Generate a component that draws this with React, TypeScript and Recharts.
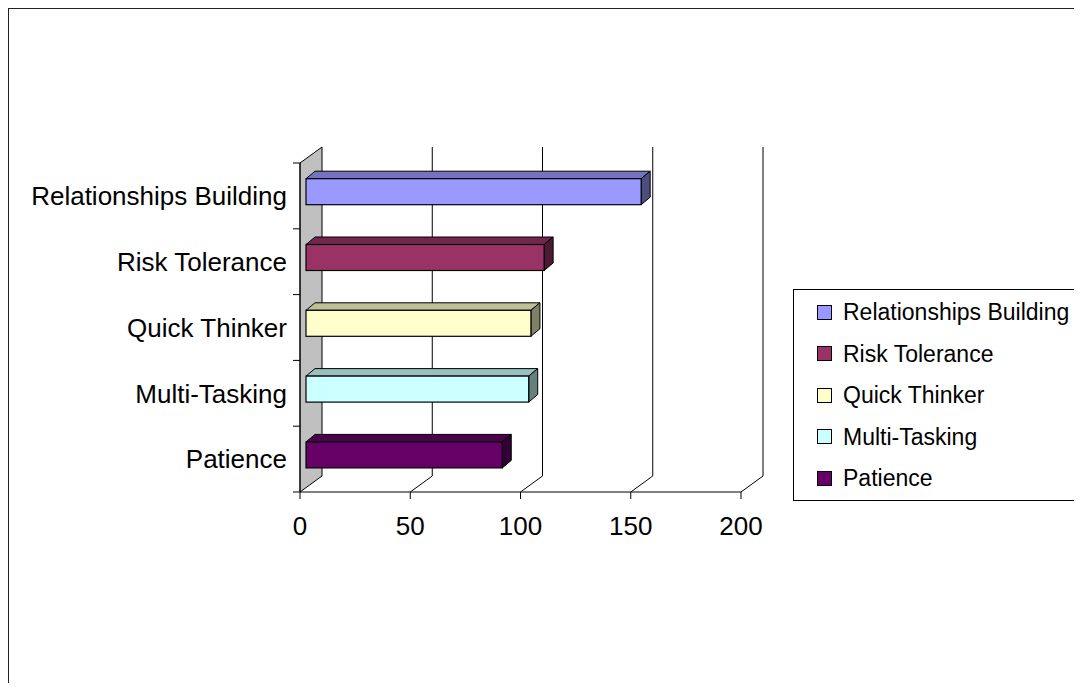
import React from "react";
import { BarChart, Bar, XAxis, YAxis, CartesianGrid, Legend, Cell } from "recharts";

const categories = ["Relationships Building", "Risk Tolerance", "Quick Thinker", "Multi-Tasking", "Patience"];
const values = [152, 108, 102, 101, 89];
const colors = ["#9999ff", "#993366", "#ffffcc", "#ccffff", "#660066"];
const xTicks = [0, 50, 100, 150, 200];

const W = 1082;
const H = 691;
const FONT = "'Liberation Sans', Arial, sans-serif";
const M = { top: 163, right: 341, bottom: 139, left: 10 };
const Y_AXIS_W = 290;
const X_AXIS_H = 60;
const PLOT_LEFT = M.left + Y_AXIS_W;
const PLOT_H = H - M.top - M.bottom - X_AXIS_H;
const BAND = PLOT_H / categories.length;

// 3d depth of the walls, of the bar placement and of the bars themselves
const WALL_DX = 22;
const WALL_DY = -16;
const BAR_OFF_X = 6;
const BAR_OFF_Y = -4.3;
const BAR_DX = 9;
const BAR_DY = -7.5;

const data = categories.map((name, i) => ({ name, value: values[i] }));

function shade(hex: string, k: number) {
  const n = parseInt(hex.slice(1), 16);
  const r = Math.round(((n >> 16) & 255) * k);
  const g = Math.round(((n >> 8) & 255) * k);
  const b = Math.round((n & 255) * k);
  return `rgb(${r},${g},${b})`;
}

function Bar3D(props: any) {
  const { x, y, width, height, fill } = props;
  const fx = x + BAR_OFF_X;
  const fy = y + BAR_OFF_Y;
  const top = `${fx},${fy} ${fx + BAR_DX},${fy + BAR_DY} ${fx + width + BAR_DX},${fy + BAR_DY} ${fx + width},${fy}`;
  const side = `${fx + width},${fy} ${fx + width + BAR_DX},${fy + BAR_DY} ${fx + width + BAR_DX},${fy + height + BAR_DY} ${fx + width},${fy + height}`;
  return (
    <g>
      <polygon points={top} fill={shade(fill, 0.75)} stroke="#000" strokeWidth={1} strokeLinejoin="round" />
      <polygon points={side} fill={shade(fill, 0.5)} stroke="#000" strokeWidth={1} strokeLinejoin="round" />
      <rect x={fx} y={fy} width={width} height={height} fill={fill} stroke="#000" strokeWidth={1.2} />
    </g>
  );
}

function GridLine3D(props: any) {
  const { x1, y1, y2, index } = props;
  if (index === 0) {
    const pts = `${x1},${y1} ${x1 + WALL_DX},${y1 + WALL_DY} ${x1 + WALL_DX},${y2 + WALL_DY} ${x1},${y2}`;
    return <polygon key={`g${index}`} points={pts} fill="#c0c0c0" stroke="#000" strokeWidth={1} />;
  }
  return (
    <g key={`g${index}`}>
      <line x1={x1 + WALL_DX} y1={y1 + WALL_DY} x2={x1 + WALL_DX} y2={y2 + WALL_DY} stroke="#000" strokeWidth={1} />
      <line x1={x1} y1={y2} x2={x1 + WALL_DX} y2={y2 + WALL_DY} stroke="#000" strokeWidth={1} />
    </g>
  );
}

function CategoryTick(props: any) {
  const { x, y, payload, index } = props;
  return (
    <g>
      <line x1={PLOT_LEFT - 7} y1={y - BAND / 2} x2={PLOT_LEFT} y2={y - BAND / 2} stroke="#000" />
      {index === categories.length - 1 && (
        <line x1={PLOT_LEFT - 7} y1={y + BAND / 2} x2={PLOT_LEFT} y2={y + BAND / 2} stroke="#000" />
      )}
      <text x={x} y={y} dy="0.355em" textAnchor="end" fill="#000" fontSize={26} fontFamily={FONT}>
        {payload.value}
      </text>
    </g>
  );
}

function LegendBox() {
  return (
    <div
      style={{
        position: "relative",
        width: 288,
        height: 212,
        boxSizing: "border-box",
        border: "1px solid #000",
        background: "#fff",
        fontFamily: FONT,
        fontSize: 23,
        color: "#000",
      }}
    >
      {categories.map((c, i) => (
        <div
          key={c}
          style={{
            position: "absolute",
            left: 23,
            top: 22 + i * 41.5 - 14,
            height: 28,
            display: "flex",
            alignItems: "center",
            whiteSpace: "nowrap",
          }}
        >
          <span
            style={{
              display: "inline-block",
              width: 13,
              height: 13,
              background: colors[i],
              border: "1px solid #000",
              marginRight: 11,
            }}
          />
          <span style={{ lineHeight: "28px" }}>{c}</span>
        </div>
      ))}
    </div>
  );
}

export default function App() {
  return (
    <div style={{ position: "relative", margin: -8, width: W, height: H, overflow: "hidden", background: "#fff" }}>
      <div
        style={{
          position: "absolute",
          left: 7,
          top: 7,
          width: 1200,
          height: 800,
          border: "2px solid #222",
        }}
      />
      <BarChart
        width={W}
        height={H}
        data={data}
        layout="vertical"
        margin={M}
        barSize={26}
        style={{ position: "absolute", left: 0, top: 0 }}
      >
        <CartesianGrid horizontal={false} vertical={GridLine3D} />
        <XAxis
          type="number"
          domain={[0, 200]}
          ticks={xTicks}
          height={X_AXIS_H}
          tickSize={7}
          tickMargin={17.5}
          axisLine={{ stroke: "#000" }}
          tickLine={{ stroke: "#000" }}
          tick={{ fill: "#000", fontSize: 26, fontFamily: FONT }}
          interval={0}
        />
        <YAxis
          type="category"
          dataKey="name"
          width={Y_AXIS_W}
          tickSize={7}
          tickMargin={6}
          tickLine={false}
          axisLine={{ stroke: "#000" }}
          tick={CategoryTick}
          interval={0}
        />
        <Legend
          layout="vertical"
          align="center"
          verticalAlign="middle"
          wrapperStyle={{ left: 793, top: 289, width: 288, height: 212 }}
          content={() => <LegendBox />}
        />
        <Bar dataKey="value" shape={Bar3D} isAnimationActive={false}>
          {data.map((d, i) => (
            <Cell key={d.name} fill={colors[i]} />
          ))}
        </Bar>
      </BarChart>
    </div>
  );
}
